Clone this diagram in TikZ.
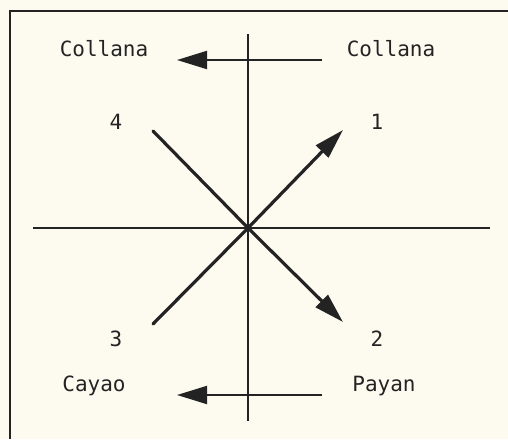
\documentclass[tikz,border=0pt]{standalone}
\usepackage{fontspec}
\setmonofont{DejaVu Sans Mono}
\usetikzlibrary{arrows.meta, positioning}
\definecolor{paperTone}{RGB}{253,251,240}
\definecolor{inkDark}{RGB}{35,35,35}
\tikzset{
    framerule/.style={draw=inkDark, line width=1.8pt},
    axisline/.style={draw=inkDark, line width=2pt},
    diagline/.style={draw=inkDark, line width=3.2pt, line cap=round},
    flowarrow/.style={-{Triangle[length=30pt, width=18pt]}, draw=inkDark, fill=inkDark, line width=2pt},
    diagarrow/.style={-{Triangle[length=30pt, width=17pt]}, draw=inkDark, fill=inkDark, line width=3.2pt},
    placelabel/.style={font=\ttfamily\fontsize{21}{21}\selectfont, text=inkDark, inner sep=0pt}
}
\begin{document}
\begin{tikzpicture}[x=1pt, y=-1pt]
        \fill[paperTone] (0,0) rectangle (508,439);
        \useasboundingbox (0,0) rectangle (508,439);
        % frame
        \draw[framerule] (10,439) -- (10,11) -- (508,11);

        \coordinate (center) at (248,228);
        \coordinate (vtop) at (248,34);
        \coordinate (vbot) at (248,421);
        \coordinate (hleft) at (33,228);
        \coordinate (hright) at (490,228);
        \coordinate (end1) at (343,130);
        \coordinate (end2) at (343,322);
        \coordinate (end3) at (153,324);
        \coordinate (end4) at (153,131);
        \coordinate (topstart) at (322,60);
        \coordinate (topend) at (177,60);
        \coordinate (botstart) at (322,395);
        \coordinate (botend) at (177,395);

        \node[placelabel] (collanaL) at (104,49) {Collana};
        \node[placelabel] (collanaR) at (391,49) {Collana};
        \node[placelabel] (num4) at (116,122) {4};
        \node[placelabel] (num1) at (377,122) {1};
        \node[placelabel] (num3) at (116,339) {3};
        \node[placelabel] (num2) at (377,339) {2};
        \node[placelabel] (cayao) at (94,386) {Cayao};
        \node[placelabel] (payan) at (384,386) {Payan};

        \draw[axisline] (vtop) -- (vbot);
        \draw[axisline] (hleft) -- (hright);
        \draw[diagline] (end4) -- (center);
        \draw[diagline] (end3) -- (center);
        \draw[diagarrow] (center) -- (end1);
        \draw[diagarrow] (center) -- (end2);
        \draw[flowarrow] (topstart) -- (topend);
        \draw[flowarrow] (botstart) -- (botend);
    \end{tikzpicture}
\end{document}
